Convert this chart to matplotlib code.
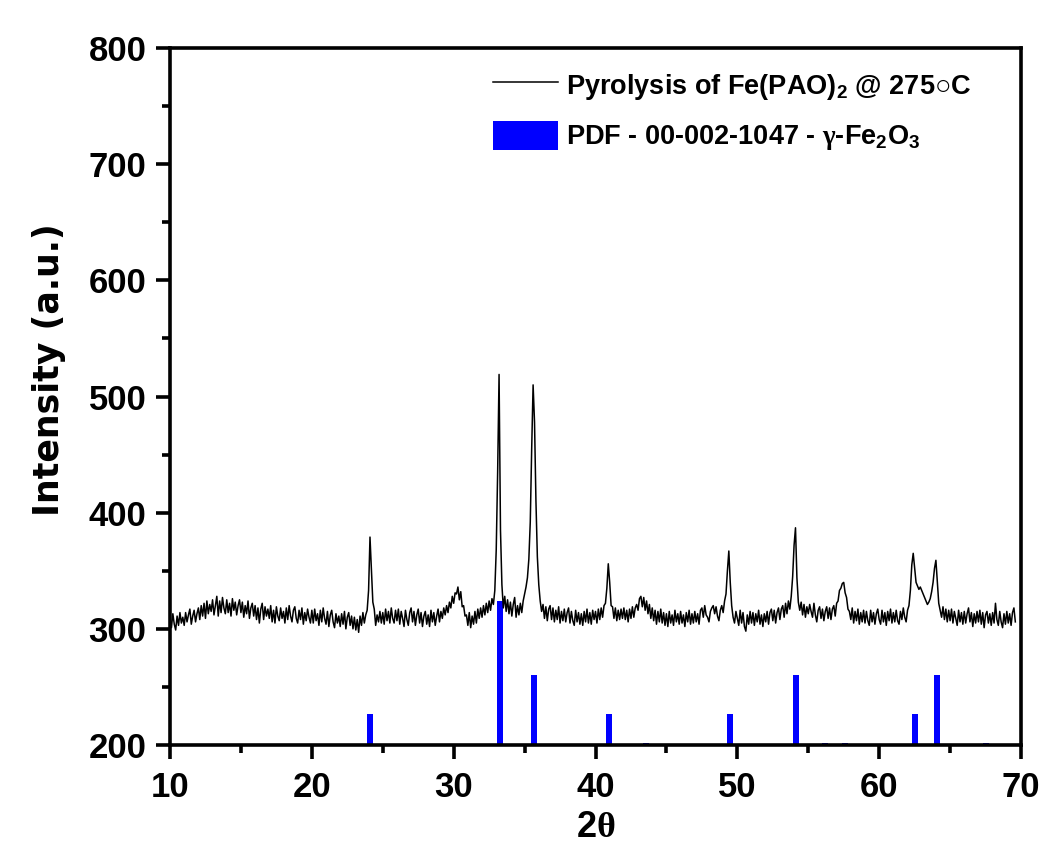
import numpy as np
import matplotlib
matplotlib.use("Agg")
import matplotlib.pyplot as plt
from matplotlib.ticker import MultipleLocator
from matplotlib.patches import Patch
from matplotlib.lines import Line2D

# ---------------- data ----------------
two_theta_start = 10.0
two_theta_step = 0.1

xrd_10_20 = [309, 301, 313, 304, 299, 311, 303, 314, 305, 310,
             303, 314, 306, 312, 317, 304, 311, 316, 306, 313,
             318, 308, 320, 311, 322, 309, 324, 313, 321, 315,
             325, 312, 320, 328, 311, 324, 314, 327, 318, 313,
             325, 314, 322, 311, 326, 316, 323, 312, 320, 325,
             314, 323, 310, 320, 313, 324, 309, 318, 322, 311,
             320, 308, 318, 305, 317, 322, 308, 319, 311, 317,
             309, 320, 306, 316, 305, 319, 311, 307, 318, 309,
             315, 305, 318, 308, 320, 311, 306, 316, 319, 309,
             305, 316, 308, 318, 304, 314, 307, 317, 310, 305]
xrd_20_30 = [316, 305, 317, 307, 313, 303, 316, 306, 318, 309,
             304, 315, 302, 312, 316, 306, 301, 313, 305, 311,
             302, 313, 304, 315, 300, 310, 314, 303, 311, 300,
             310, 299, 308, 297, 311, 303, 314, 305, 312, 316,
             333, 379, 351, 323, 317, 303, 312, 306, 315, 305,
             314, 304, 317, 307, 315, 305, 318, 309, 305, 316,
             307, 317, 304, 315, 309, 302, 316, 308, 303, 314,
             318, 306, 315, 303, 312, 317, 305, 314, 302, 311,
             315, 304, 312, 302, 316, 306, 314, 303, 311, 317,
             306, 315, 309, 318, 312, 320, 314, 323, 318, 328]
xrd_30_40 = [322, 331, 330, 336, 325, 332, 319, 320, 311, 312,
             303, 314, 301, 311, 304, 315, 305, 317, 309, 318,
             310, 320, 312, 322, 314, 324, 316, 326, 321, 333,
             368, 435, 519, 385, 338, 318, 328, 315, 325, 313,
             323, 311, 321, 327, 310, 320, 312, 322, 314, 324,
             330, 336, 344, 360, 392, 455, 510, 478, 410, 362,
             338, 324, 315, 321, 309, 319, 307, 317, 320, 308,
             318, 306, 316, 308, 319, 305, 315, 307, 317, 306,
             314, 318, 305, 315, 307, 303, 316, 306, 314, 304,
             313, 303, 315, 306, 317, 305, 314, 304, 316, 308]
xrd_40_50 = [315, 305, 317, 308, 318, 310, 320, 322, 335, 356,
             340, 320, 319, 309, 318, 307, 316, 308, 317, 309,
             318, 308, 316, 306, 317, 309, 319, 310, 318, 321,
             316, 326, 328, 319, 327, 316, 324, 313, 321, 309,
             318, 307, 316, 304, 315, 306, 317, 305, 314, 303,
             313, 302, 315, 305, 312, 303, 316, 306, 313, 304,
             315, 305, 312, 302, 314, 306, 316, 304, 313, 305,
             315, 306, 313, 304, 316, 318, 310, 320, 312, 310,
             306, 315, 318, 320, 313, 319, 311, 307, 316, 320,
             314, 324, 330, 350, 367, 340, 320, 310, 305, 315]
xrd_50_60 = [309, 303, 316, 305, 314, 302, 298, 312, 304, 315,
             305, 314, 303, 313, 306, 316, 304, 312, 302, 313,
             306, 315, 304, 314, 317, 307, 316, 305, 314, 318,
             308, 317, 320, 310, 322, 313, 324, 317, 328, 345,
             372, 387, 344, 323, 316, 323, 312, 321, 310, 319,
             313, 321, 315, 310, 322, 312, 306, 316, 319, 309,
             317, 307, 315, 319, 309, 318, 308, 317, 320, 311,
             322, 324, 333, 335, 339, 340, 331, 327, 317, 315,
             308, 318, 305, 315, 307, 317, 304, 314, 306, 316,
             305, 315, 307, 303, 316, 306, 314, 304, 313, 317]
xrd_60_70 = [308, 304, 316, 306, 314, 303, 315, 307, 317, 305,
             314, 306, 316, 307, 304, 315, 308, 318, 310, 306,
             316, 320, 333, 355, 365, 352, 340, 337, 334, 336,
             333, 330, 327, 324, 321, 323, 326, 332, 340, 352,
             359, 340, 322, 316, 310, 319, 308, 317, 306, 316,
             307, 317, 305, 315, 309, 303, 316, 306, 314, 304,
             315, 305, 313, 318, 306, 314, 302, 313, 305, 315,
             306, 316, 304, 314, 301, 312, 315, 305, 313, 303,
             314, 305, 322, 308, 303, 315, 306, 301, 313, 304,
             315, 305, 313, 303, 314, 318, 306]

pdf_positions = [24.13, 33.24, 35.66, 40.94, 43.57, 49.50, 54.13, 56.17, 57.58, 62.52, 64.06, 67.50]
pdf_tops = [227, 324, 260, 227, 201.5, 227, 260, 201.5, 201.5, 227, 260, 201.5]

baseline = 200
x_ticks = [10, 20, 30, 40, 50, 60, 70]
y_ticks = [200, 300, 400, 500, 600, 700, 800]

label_line = "Pyrolysis of Fe(PAO)$_2$ @ 275$\\mathrm{\u25cb}$C"
label_bar = r"PDF - 00-002-1047 - $\mathrm{\gamma}$-Fe$_2$O$_3$"
x_label = r"2$\mathrm{\theta}$"
y_label = "Intensity (a.u.)"

# ---------------- plot ----------------
plt.rcParams['font.family'] = ['Liberation Sans', 'DejaVu Sans']
plt.rcParams['font.weight'] = 'bold'
plt.rcParams['mathtext.fontset'] = 'custom'
plt.rcParams['mathtext.rm'] = 'Liberation Serif'
plt.rcParams['mathtext.default'] = 'regular'
plt.rcParams['mathtext.fallback'] = 'stix'

intensity = np.array(xrd_10_20 + xrd_20_30 + xrd_30_40 + xrd_40_50 + xrd_50_60 + xrd_60_70, dtype=float)
two_theta = two_theta_start + two_theta_step * np.arange(len(intensity))

fig = plt.figure(figsize=(10.54, 8.6), dpi=100)
ax = fig.add_axes([0.1613, 0.1337, 0.8074, 0.8105])

heights = [t - baseline for t in pdf_tops]
ax.bar(pdf_positions, heights, bottom=baseline, width=0.42, color='#0000ff', zorder=2)
ax.plot(two_theta, intensity, color='black', lw=1.1, zorder=3)

ax.set_xlim(10, 70)
ax.set_ylim(200, 800)
ax.set_xticks(x_ticks)
ax.set_yticks(y_ticks)
ax.xaxis.set_minor_locator(MultipleLocator(5))
ax.yaxis.set_minor_locator(MultipleLocator(50))
ax.tick_params(which='major', direction='out', length=10, width=2.6, labelsize=25)
ax.tick_params(axis='x', which='major', pad=9)
ax.tick_params(axis='y', which='major', pad=7)
ax.tick_params(which='minor', direction='out', length=6, width=2.6)
for lab in ax.get_xticklabels() + ax.get_yticklabels():
    lab.set_fontweight('bold')
for s in ax.spines.values():
    s.set_linewidth(2.6)

ax.set_xlabel(x_label, fontsize=26, fontweight='bold', labelpad=4)
ax.set_ylabel(y_label, fontsize=25, fontweight='bold', family=['DejaVu Sans'])
ax.yaxis.set_label_coords(-0.122, 0.538)

handles = [Line2D([0], [0], color='black', lw=1.1),
           Patch(facecolor='#0000ff', edgecolor='none')]
leg = ax.legend(handles, [label_line, label_bar], loc='upper left',
                bbox_to_anchor=(0.3796, 0.9677), frameon=False,
                prop={'size': 19.5, 'weight': 'bold'},
                handlelength=2.4, handleheight=1.25, handletextpad=0.3,
                labelspacing=0.7, borderaxespad=0.0, borderpad=0.0)

fig.savefig('out.png', dpi=100, facecolor='white')
